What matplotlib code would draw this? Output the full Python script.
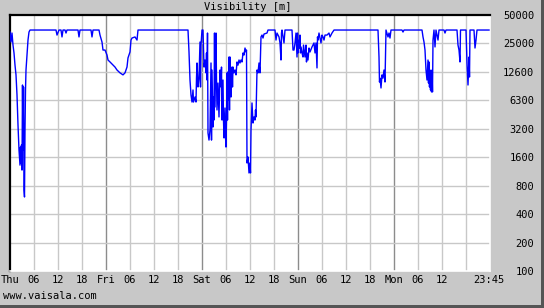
import numpy as np
import matplotlib
matplotlib.use("Agg")
import matplotlib.pyplot as plt
from matplotlib.patches import Rectangle

# Sichtweite, Stunden ab Do 00:00
hours = [
    0.0, 0.25, 0.5, 0.75, 1.0, 1.25, 1.5, 1.75, 2.0, 2.25, 2.5, 2.625, 2.75, 2.875,
    3.0, 3.125, 3.25, 3.375, 3.5, 3.625, 3.75, 3.875, 4.0, 4.25, 4.5, 4.75, 5.0,
    11.5, 11.75, 12.25, 12.75, 13.0, 13.25, 13.75, 14.0, 14.25,
    17.0, 17.25, 17.5, 20.25, 20.5, 20.75,
    22.25, 22.5, 23.0, 23.25, 23.75, 24.25, 24.5, 25.0, 25.75, 26.25, 26.75, 27.5,
    28.25, 28.75, 29.25, 29.5, 30.0, 30.25, 30.5, 31.25, 31.75, 32.0,
    44.5, 44.75, 45.0, 45.25, 45.5, 45.75, 45.875, 46.25, 46.5, 46.625, 46.75, 47.0,
    47.25, 47.5, 47.625, 47.75, 48.0, 48.25, 48.5, 48.75, 49.0, 49.125, 49.25,
    49.375, 49.5, 49.75, 50.0, 50.25, 50.375, 50.5, 50.75, 50.875, 51.0, 51.125,
    51.25, 51.5, 51.625, 51.75, 52.0, 52.25, 52.5, 52.75, 52.875, 53.0, 53.25,
    53.375, 53.5, 53.75, 53.875, 54.0, 54.125, 54.25, 54.375, 54.5, 54.625, 54.75,
    54.875, 55.0, 55.125, 55.25, 55.375, 55.5, 55.625, 55.75, 56.0, 56.25, 56.5,
    56.75, 57.0, 57.25, 57.5, 57.75, 58.0, 58.25, 58.5, 58.75, 59.0, 59.125, 59.25,
    59.5, 59.75, 60.0, 60.125, 60.25, 60.5, 60.75, 61.0, 61.25, 61.375, 61.5, 61.75,
    62.0, 62.25, 62.5, 62.75, 63.0, 63.25, 63.5, 64.25, 64.5,
    66.25, 66.5, 66.75, 67.25, 67.5, 67.75, 67.875, 68.0, 68.5, 68.75,
    70.5, 70.75, 71.0, 71.25, 71.5, 71.625, 71.75, 71.875, 72.0, 72.25, 72.375,
    72.5, 72.625, 72.75, 73.0, 73.25, 73.375, 73.75, 74.0, 74.125, 74.25, 74.5,
    74.75, 75.0, 75.5, 76.0, 76.25, 76.5, 76.75, 76.875, 77.0, 77.25, 77.5, 77.75,
    78.0, 78.25, 78.5, 78.75, 79.25, 79.75, 80.0, 80.5, 81.0,
    92.0, 92.25, 92.375, 92.5, 92.75, 93.0, 93.25, 93.5, 93.75, 93.875, 94.0,
    94.5, 94.75, 95.0, 95.25, 98.0, 98.25, 98.5,
    103.0, 103.25, 103.5, 103.75, 104.0, 104.25, 104.5, 104.625, 104.75, 104.875,
    105.0, 105.125, 105.25, 105.375, 105.5, 105.625, 105.75, 106.0, 106.25, 106.5,
    107.0, 107.25, 108.5, 108.75, 109.0,
    111.75, 112.0, 112.25, 112.5, 112.625, 114.0, 114.25, 114.5, 114.75, 114.875,
    115.0, 116.0, 116.25, 116.5, 116.75, 119.75,
]
visibility = [
    33800, 26500, 33000, 24600, 20300, 15100, 11900, 7290, 3510, 1910, 1320, 2050, 1390, 2160,
    1170, 9300, 1910, 8860, 720, 607, 3110, 8240, 13400, 19300, 27800, 33800, 35500,
    35500, 31400, 35500, 35500, 30000, 35500, 35500, 33000, 35500,
    35500, 30000, 35500, 35500, 30000, 35500,
    35500, 31400, 26500, 21800, 21800, 19300, 17100, 16300, 15100, 14400, 13400, 12500,
    11900, 12500, 14400, 18000, 20800, 27800, 29200, 30000, 27800, 35500,
    35500, 20800, 10500, 7290, 6140, 8240, 6140, 6940, 6140, 11000, 15900, 8860,
    11000, 26500, 8860, 24600, 35500, 35500, 14400, 17100, 12500, 20300, 10500,
    33000, 2890, 2430, 3110, 15900, 2430, 13400, 3340, 6940, 3960, 33000,
    5440, 33000, 10500, 5060, 9760, 4270, 13400, 8860, 14400, 3960, 10500,
    3960, 2560, 5310, 2620, 2050, 3960, 12500, 3960, 12800, 6450, 18400,
    5060, 18400, 8860, 6940, 10500, 14400, 8860, 14400, 12500, 13400, 11900,
    16300, 15100, 17100, 15900, 17100, 16300, 20300, 19300, 22900, 20800, 21800, 1390,
    1610, 1090, 1390, 1090, 3110, 6000, 3680, 4270, 3960, 5060, 4270, 13400,
    12500, 15900, 12500, 30000, 31400, 29200, 32200, 33000, 35500,
    35500, 27800, 33000, 30000, 25900, 17100, 33000, 35500, 25900, 35500,
    35500, 21800, 21800, 25900, 33000, 24600, 18400, 33000, 20300, 27800, 22900,
    31400, 20300, 23500, 20300, 18400, 24600, 18400, 24600, 16300, 20300, 17100,
    22900, 20800, 23500, 25900, 20300, 25900, 14100, 30000, 27800, 33000, 29200, 25900,
    31400, 30000, 27800, 31400, 31400, 33000, 30000, 33000, 35500,
    35500, 18400, 10000, 11000, 8650, 11900, 11000, 13400, 10000, 18400, 35500,
    30000, 33000, 29200, 35500, 35500, 33800, 35500,
    35500, 30000, 26500, 21800, 13400, 10500, 17100, 9760, 16300, 8860,
    13400, 8240, 10500, 7850, 13400, 7850, 27800, 35500, 23500, 35500,
    27800, 35500, 35500, 33000, 35500,
    35500, 24600, 21800, 16300, 35500, 35500, 15900, 9300, 18400, 11300,
    35500, 35500, 22900, 27800, 35500, 35500,
]

y_ticks = [100, 200, 400, 800, 1600, 3200, 6400, 12800, 25600, 51200]
y_labels = ["100", "200", "400", "800", "1600", "3200", "6300", "12600", "25000", "50000"]
x_ticks = [0, 6, 12, 18, 24, 30, 36, 42, 48, 54, 60, 66, 72, 78, 84, 90, 96, 102, 108, 119.75]
x_labels = ["Thu", "06", "12", "18", "Fri", "06", "12", "18", "Sat", "06", "12",
            "18", "Sun", "06", "12", "18", "Mon", "06", "12", "23:45"]

plt.rcParams["font.family"] = "DejaVu Sans Mono"
plt.rcParams["font.size"] = 7.5

bg = "#c8c8c8"
fig = plt.figure(figsize=(5.44, 3.08), dpi=100, facecolor=bg)
ax = fig.add_axes([10 / 544, 37 / 308, 480 / 544, 256 / 308])
ax.set_facecolor("white")

# Gitter: alle 6 h hell, Tageswechsel dunkler
for h in range(6, 120, 6):
    col = "#8c8c8c" if h % 24 == 0 else bg
    ax.axvline(h, color=col, lw=1.0, zorder=1)
for v in y_ticks[1:-1]:
    ax.axhline(v, color=bg, lw=1.0, zorder=1)

ax.plot(hours, visibility, color="#0000ff", lw=1.0, zorder=3)

ax.set_yscale("log", base=2)
ax.set_ylim(100, 51200)
ax.set_xlim(0, 120)
ax.minorticks_off()
ax.set_yticks(y_ticks)
ax.set_yticklabels(y_labels)
ax.yaxis.tick_right()
ax.tick_params(axis="y", length=0, pad=32)
for lbl in ax.get_yticklabels():
    lbl.set_horizontalalignment("right")
ax.set_xticks(x_ticks)
ax.set_xticklabels(x_labels)
ax.tick_params(axis="x", length=0, pad=3)

for side in ["top", "left"]:
    ax.spines[side].set_color("black")
    ax.spines[side].set_linewidth(1.6)
for side in ["bottom", "right"]:
    ax.spines[side].set_color("white")
    ax.spines[side].set_linewidth(1.2)

fig.text(248 / 544, 1 - 7 / 308, "Visibility [m]", ha="center", va="center")
fig.text(3 / 544, 1 - 296 / 308, "www.vaisala.com", ha="left", va="center")

# Schattenrand rechts und unten
fig.patches.append(Rectangle((541 / 544, 0), 3 / 544, 1, transform=fig.transFigure,
                             facecolor="#555555", edgecolor="none"))
fig.patches.append(Rectangle((0, 0), 1, 3 / 308, transform=fig.transFigure,
                             facecolor="#555555", edgecolor="none"))

fig.savefig("out.png", dpi=100, facecolor=bg)
